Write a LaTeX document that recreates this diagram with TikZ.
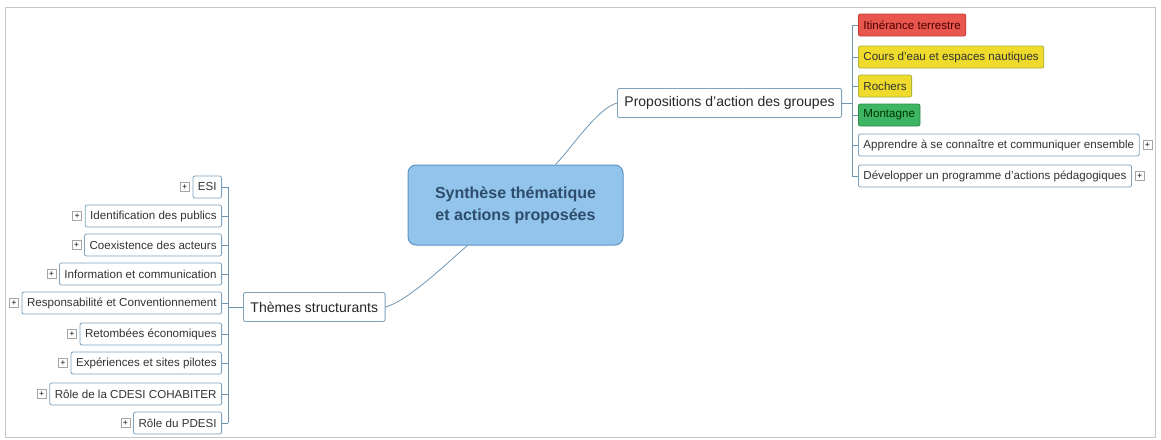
\documentclass[tikz,border=0pt]{standalone}
\usepackage{fontspec}
\setmainfont{Liberation Sans}
\usetikzlibrary{calc,positioning}
\definecolor{boxc}{HTML}{7FA3BC}
\definecolor{linec}{HTML}{6F97B2}
\definecolor{ctrfill}{HTML}{93C5EC}
\definecolor{ctrdraw}{HTML}{5E93C2}
\definecolor{ctrtext}{HTML}{2E4C6C}
\definecolor{redf}{HTML}{E9564E}
\definecolor{redd}{HTML}{C23A36}
\definecolor{yelf}{HTML}{EEDB2B}
\definecolor{yeld}{HTML}{A9B23A}
\definecolor{grnf}{HTML}{3DB563}
\definecolor{grnd}{HTML}{2C8C4A}
\tikzset{
  leaf/.style={draw=boxc, rounded corners=2pt, fill=white, line width=0.8pt,
    font=\fontsize{11.6}{13}\selectfont, text=black!80, minimum height=22pt, inner xsep=5pt, inner ysep=2pt},
  lvone/.style={draw=boxc, rounded corners=2pt, fill=white, line width=0.9pt,
    font=\fontsize{14}{16}\selectfont, text=black!85, minimum height=29pt, inner xsep=7pt},
  ctrbox/.style={draw=ctrdraw, fill=ctrfill, rounded corners=8pt, line width=1pt,
    minimum width=215pt, minimum height=80pt, align=center,
    font=\bfseries\fontsize{16}{22}\selectfont, text=ctrtext},
  plusbox/.style={draw=gray!70, fill=white, minimum size=9pt, inner sep=0pt,
    font=\bfseries\fontsize{8}{8}\selectfont, text=black!70},
  conn/.style={draw=linec, line width=0.8pt},
  redleaf/.style={leaf, fill=redf, draw=redd, text=red!30!black},
  yelleaf/.style={leaf, fill=yelf, draw=yeld},
  grnleaf/.style={leaf, fill=grnf, draw=grnd, text=green!20!black},
}
\begin{document}
\begin{tikzpicture}[x=1pt,y=-1pt]
\useasboundingbox (0,0) rectangle (1161,439);
\fill[white] (0,0) rectangle (1161,439);
\draw[gray!45, line width=0.8pt] (5,7) rectangle (1155,437);

% centre
\node[ctrbox] (ctr) at (515.5,205) {Synthèse thématique\\et actions proposées};

% level 1
\node[lvone, anchor=west] (props) at (617,103) {Propositions d'action des groupes};
\node[lvone, anchor=west] (themes) at (243,307) {Thèmes structurants};

% right leaves
\node[redleaf, anchor=west] (r1) at (858,25) {Itinérance terrestre};
\node[yelleaf, anchor=west] (r2) at (858,57) {Cours d'eau et espaces nautiques};
\node[yelleaf, anchor=west] (r3) at (858,86) {Rochers};
\node[grnleaf, anchor=west] (r4) at (858,115) {Montagne};
\node[leaf, anchor=west] (r5) at (858,145) {Apprendre à se connaître et communiquer ensemble};
\node[leaf, anchor=west] (r6) at (858,176) {Développer un programme d'actions pédagogiques};
\node[plusbox, right=3pt of r5] (p5) {+};
\node[plusbox, right=3pt of r6] (p6) {+};

% left leaves
\node[leaf, anchor=east] (l1) at (222,187) {ESI};
\node[leaf, anchor=east] (l2) at (222,216) {Identification des publics};
\node[leaf, anchor=east] (l3) at (222,245) {Coexistence des acteurs};
\node[leaf, anchor=east] (l4) at (222,274) {Information et communication};
\node[leaf, anchor=east] (l5) at (222,303) {Responsabilité et Conventionnement};
\node[leaf, anchor=east] (l6) at (222,334) {Retombées économiques};
\node[leaf, anchor=east] (l7) at (222,363) {Expériences et sites pilotes};
\node[leaf, anchor=east] (l8) at (222,394) {Rôle de la CDESI COHABITER};
\node[leaf, anchor=east] (l9) at (222,423) {Rôle du PDESI};
\foreach \i in {1,...,9} {
  \node[plusbox, left=3pt of l\i] (pl\i) {+};
}

% buses
\coordinate (lb) at (228,0);
\coordinate (rb) at (852,0);
\foreach \i in {1,...,9} { \draw[conn] (l\i.east) -- (l\i.east -| lb); }
\draw[conn] (l1.east -| lb) -- (l9.east -| lb);
\draw[conn] (themes.west) -- (themes.west -| lb);
\foreach \i in {1,...,6} { \draw[conn] (r\i.west) -- (r\i.west -| rb); }
\draw[conn] (r1.west -| rb) -- (r6.west -| rb);
\draw[conn] (props.east) -- (props.east -| rb);

% centre connectors
\draw[conn] (themes.east) to[out=15, in=-140, looseness=0.6] ([xshift=-48pt]ctr.south);
\draw[conn] (props.west) to[out=195, in=45, looseness=0.6] ([xshift=40pt]ctr.north);
\end{tikzpicture}
\end{document}
